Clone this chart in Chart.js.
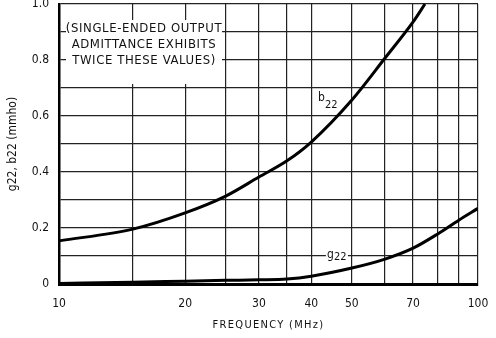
<!DOCTYPE html>
<html>
<head>
<meta charset="utf-8">
<script src="https://cdn.jsdelivr.net/npm/chart.js@4"></script>
<style>
  html, body { margin: 0; padding: 0; background: #fff; }
  #wrap { width: 496px; height: 338px; }
</style>
</head>
<body>
<div id="wrap"><canvas id="chart"></canvas></div>
<script>
// frequency points (MHz)
const freqB = [10, 15, 20, 25, 30, 35, 40, 50, 60, 70, 74.7];
const b22 = [0.154, 0.196, 0.254, 0.314, 0.382, 0.44, 0.507, 0.657, 0.807, 0.936, 1.0];

const freqG = [10, 15, 20, 25, 30, 35, 40, 50, 60, 70, 80, 90, 100];
const g22 = [0.002, 0.006, 0.01, 0.013, 0.015, 0.018, 0.028, 0.057, 0.089, 0.128, 0.178, 0.228, 0.27];

const gridFreqs = [10, 15, 20, 25, 30, 35, 40, 50, 60, 70, 80, 90, 100];
const labelFreqs = [10, 20, 30, 40, 50, 70, 100];
const yLabels = [0, 0.2, 0.4, 0.6, 0.8, 1.0];

const noteLines = ['(SINGLE-ENDED OUTPUT', 'ADMITTANCE EXHIBITS', 'TWICE THESE VALUES)'];
const xTitle = 'FREQUENCY (MHz)';

const FONT = "'Liberation Sans Narrow', 'DejaVu Sans Condensed', sans-serif";

const toPts = (xs, ys) => xs.map((x, i) => ({ x: x, y: ys[i] }));

// white box with the note, and the curve labels
const notes = {
  id: 'notes',
  beforeDatasetsDraw(chart) {
    const ctx = chart.ctx;
    const xs = chart.scales.x, ys = chart.scales.y;
    ctx.save();
    ctx.fillStyle = '#fff';
    ctx.fillRect(66, 20, 156, 64);
    ctx.fillStyle = '#111';
    ctx.font = '13px ' + FONT;
    ctx.letterSpacing = '0.6px';
    ctx.textAlign = 'center';
    ctx.textBaseline = 'middle';
    ctx.fillText(noteLines[0], 144, 29);
    ctx.fillText(noteLines[1], 144, 45);
    ctx.fillText(noteLines[2], 144, 61);
    ctx.letterSpacing = '0px';
    // g22 label sitting on the 0.1 line
    const gx = xs.getPixelForValue(43.6), gy = ys.getPixelForValue(0.1);
    ctx.fillStyle = '#fff';
    ctx.fillRect(gx - 1, gy - 7, 22, 13);
    ctx.fillStyle = '#111';
    ctx.textAlign = 'left';
    ctx.font = '12px ' + FONT;
    ctx.fillText('g', gx, gy - 1);
    ctx.font = '11px ' + FONT;
    ctx.fillText('22', gx + 7, gy + 1);
    // b22 label
    const bx = xs.getPixelForValue(41.5), by = ys.getPixelForValue(0.657);
    ctx.font = '12px ' + FONT;
    ctx.fillText('b', bx, by - 2);
    ctx.font = '11px ' + FONT;
    ctx.fillText('22', bx + 7, by + 5);
    ctx.restore();
  },
  afterDraw(chart) {
    const ctx = chart.ctx;
    const a = chart.chartArea;
    ctx.save();
    ctx.fillStyle = '#111';
    ctx.font = '11px ' + FONT;
    ctx.letterSpacing = '1.3px';
    ctx.textAlign = 'center';
    ctx.textBaseline = 'middle';
    ctx.fillText(xTitle, (a.left + a.right) / 2, 325);
    ctx.restore();
  }
};

new Chart(document.getElementById('chart'), {
  type: 'line',
  data: {
    datasets: [
      { label: 'b22', data: toPts(freqB, b22), borderColor: '#000', borderWidth: 3, pointRadius: 0, cubicInterpolationMode: 'monotone', clip: false },
      { label: 'g22', data: toPts(freqG, g22), borderColor: '#000', borderWidth: 3, pointRadius: 0, cubicInterpolationMode: 'monotone' }
    ]
  },
  plugins: [notes],
  options: {
    responsive: true,
    maintainAspectRatio: false,
    animation: false,
    layout: { padding: { top: 4, right: 18, left: 4, bottom: 0 } },
    plugins: { legend: { display: false }, tooltip: { enabled: false } },
    scales: {
      x: {
        type: 'logarithmic',
        min: 10,
        max: 100,
        afterBuildTicks: axis => { axis.ticks = gridFreqs.map(v => ({ value: v })); },
        afterFit: s => { s.height = 54; s.paddingLeft = 0; s.paddingRight = 0; },
        ticks: {
          autoSkip: false,
          maxRotation: 0,
          padding: 13,
          color: '#111',
          font: { family: FONT, size: 12 },
          callback: v => labelFreqs.includes(v) ? String(v) : ''
        },
        grid: { color: '#222', lineWidth: 1.2, drawTicks: false },
        border: { color: '#000', width: 3 }
      },
      y: {
        min: 0,
        max: 1.0,
        afterFit: s => { s.width = 55; s.paddingTop = 0; s.paddingBottom = 0; },
        ticks: {
          stepSize: 0.1,
          padding: 10,
          color: '#111',
          font: { family: FONT, size: 12 },
          callback: v => {
            const r = Math.round(v * 10) / 10;
            if (!yLabels.some(t => Math.abs(t - r) < 1e-9)) return '';
            return r === 0 ? '0' : r.toFixed(1);
          }
        },
        grid: { color: '#222', lineWidth: 1.2, drawTicks: false },
        border: { color: '#000', width: 2.5 },
        title: { display: true, text: 'g22, b22 (mmho)', color: '#111', font: { family: FONT, size: 12 }, padding: { top: 2, bottom: 2 } }
      }
    }
  }
});
</script>
</body>
</html>
